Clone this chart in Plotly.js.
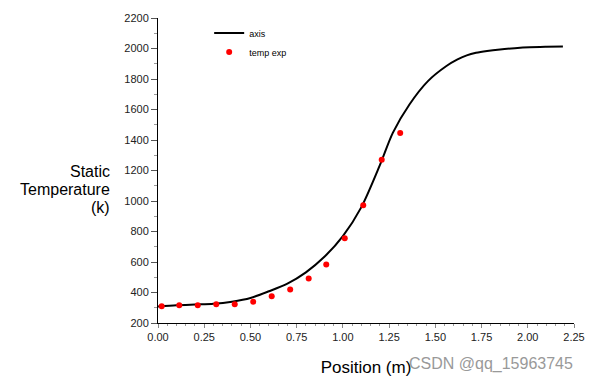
<!DOCTYPE html>
<html><head><meta charset="utf-8">
<script src="https://cdn.plot.ly/plotly-3.0.1.min.js"></script>
<style>body{margin:0;background:#fff}#chart{width:591px;height:381px}</style>
</head><body><div id="chart"></div>
<script>
// Simulation curve ("axis")
const axisX = [0.0, 0.1, 0.2, 0.3, 0.4, 0.5, 0.6, 0.7, 0.8, 0.9, 1.0, 1.1, 1.2, 1.27, 1.36, 1.46, 1.56, 1.62, 1.67, 1.72, 1.78, 1.85, 1.93, 2.01, 2.1, 2.19];
const axisY = [308, 316, 321, 326, 340, 364, 408, 458, 532, 634, 770, 960, 1235, 1447, 1633, 1786, 1885, 1928, 1955, 1972, 1984, 1994, 2002, 2008, 2011, 2013];
// Experimental temperatures ("temp exp")
const expX = [0.02, 0.115, 0.215, 0.315, 0.415, 0.515, 0.615, 0.715, 0.815, 0.91, 1.01, 1.11, 1.21, 1.31];
const expY = [310, 316, 316, 323, 323, 340, 375, 420, 492, 584, 756, 972, 1270, 1446];
const xTicks = [0, 0.25, 0.5, 0.75, 1.0, 1.25, 1.5, 1.75, 2.0, 2.25];
const xTickText = ["0.00","0.25","0.50","0.75","1.00","1.25","1.50","1.75","2.00","2.25"];
const yTicks = [200,400,600,800,1000,1200,1400,1600,1800,2000,2200];

const traces = [
  {x: axisX, y: axisY, mode: 'lines', name: 'axis', line: {color: '#000', width: 2, shape: 'spline', smoothing: 0.8}},
  {x: expX, y: expY, mode: 'markers', name: 'temp exp', marker: {color: '#ff0000', size: 6}}
];
const lab = (t, y) => ({text: t, xref: 'paper', yref: 'paper', x: -0.111, y: y, xanchor: 'right', yanchor: 'middle', showarrow: false, font: {size: 16, color: '#000'}});
const layout = {
  width: 591, height: 381,
  margin: {l: 158, r: 17, t: 18, b: 58},
  paper_bgcolor: '#fff', plot_bgcolor: '#fff',
  font: {family: 'Arial, "Liberation Sans", sans-serif', color: '#222'},
  showlegend: true,
  legend: {x: 0.123, y: 0.998, xanchor: 'left', yanchor: 'top', bgcolor: 'rgba(0,0,0,0)', font: {size: 9, color: '#000'}, tracegroupgap: 0},
  xaxis: {range: [0, 2.25], tickvals: xTicks, ticktext: xTickText, showgrid: false, zeroline: false,
    showline: true, linecolor: '#000', linewidth: 1, ticks: 'outside', ticklen: 4, tickcolor: '#888',
    minor: {dtick: 0.05, ticks: 'outside', ticklen: 2, tickcolor: '#999', showgrid: false},
    tickfont: {size: 11, color: '#222'},
    title: {text: 'Position (m)', font: {size: 17, color: '#000'}, standoff: 18}},
  yaxis: {range: [200, 2200], tickvals: yTicks, showgrid: false, zeroline: false,
    showline: true, linecolor: '#000', linewidth: 1, ticks: 'outside', ticklen: 6, tickcolor: '#555',
    minor: {dtick: 100, ticks: 'outside', ticklen: 3, tickcolor: '#999', showgrid: false},
    tickfont: {size: 11, color: '#222'}},
  annotations: [
    lab('Static', 0.498), lab('Temperature', 0.439), lab('(k)', 0.380),
    {text: 'CSDN @qq_15963745', xref: 'paper', yref: 'paper', x: 1.003, y: -0.135, xanchor: 'right', yanchor: 'middle', showarrow: false, font: {size: 16, color: '#999'}}
  ]
};
Plotly.newPlot('chart', traces, layout, {displayModeBar: false, staticPlot: true});
</script>
</body></html>
